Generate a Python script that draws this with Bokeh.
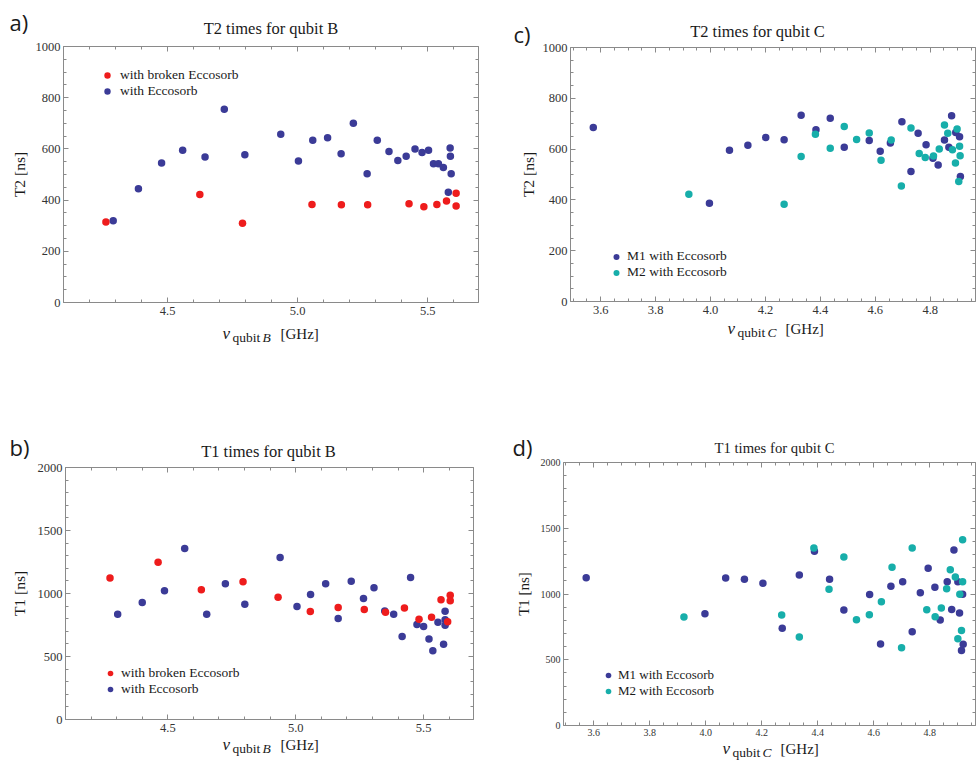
import math
from bokeh.plotting import figure
from bokeh.models import (Legend, LegendItem, LinearAxis, Range1d,
                          SingleIntervalTicker, PrintfTickFormatter)
from bokeh.core.properties import value
from bokeh.layouts import row, column
from bokeh.embed import file_html
from bokeh.resources import INLINE

# ---------------- data ----------------
# a) T2 times for qubit B
a_broken_f = [4.263, 4.624, 4.788, 5.055, 5.168, 5.269, 5.428, 5.485, 5.535, 5.572, 5.609, 5.609]
a_broken_t2 = [314, 422, 310, 383, 382, 382, 386, 374, 383, 396, 427, 377]
a_ecco_f = [4.291, 4.388, 4.477, 4.558, 4.644, 4.718, 4.797, 4.935, 5.003, 5.058, 5.115, 5.167,
            5.214, 5.267, 5.306, 5.351, 5.385, 5.417, 5.451, 5.478, 5.503, 5.522, 5.541, 5.560,
            5.586, 5.587, 5.590, 5.579]
a_ecco_t2 = [319, 444, 545, 595, 568, 755, 577, 657, 553, 634, 644, 581,
             700, 503, 634, 590, 555, 571, 600, 586, 595, 542, 542, 527,
             604, 571, 503, 431]

# b) T1 times for qubit B
b_broken_f = [4.274, 4.462, 4.631, 4.794, 4.931, 5.057, 5.166, 5.268, 5.351, 5.425, 5.482, 5.531,
              5.568, 5.594, 5.604, 5.604]
b_broken_t1 = [1124, 1249, 1029, 1093, 971, 857, 889, 873, 852, 884, 796, 812,
               950, 775, 987, 942]
b_ecco_f = [4.304, 4.400, 4.487, 4.566, 4.652, 4.725, 4.801, 4.939, 5.005, 5.058, 5.117, 5.166,
            5.217, 5.265, 5.306, 5.348, 5.383, 5.416, 5.449, 5.474, 5.500, 5.521, 5.536, 5.556,
            5.578, 5.584, 5.584, 5.584]
b_ecco_t1 = [836, 929, 1021, 1357, 836, 1077, 915, 1286, 897, 992, 1077, 802,
             1098, 960, 1045, 862, 836, 659, 1127, 754, 738, 638, 545, 772,
             598, 860, 791, 749]

# c) T2 times for qubit C
c_m1_f = [3.573, 3.996, 4.069, 4.136, 4.201, 4.268, 4.330, 4.384, 4.436, 4.487, 4.578, 4.618,
          4.655, 4.697, 4.730, 4.756, 4.785, 4.810, 4.829, 4.852, 4.868, 4.878, 4.893, 4.907, 4.910]
c_m1_t2 = [685, 387, 595, 615, 646, 637, 733, 676, 721, 607, 634, 592,
           624, 708, 512, 662, 617, 564, 537, 636, 607, 731, 665, 649, 492]
c_m2_f = [3.921, 4.268, 4.330, 4.382, 4.436, 4.487, 4.532, 4.578, 4.621, 4.658, 4.695, 4.730,
          4.760, 4.782, 4.812, 4.833, 4.852, 4.864, 4.881, 4.892, 4.898, 4.904, 4.907, 4.909]
c_m2_t2 = [422, 383, 571, 658, 603, 689, 638, 663, 556, 636, 455, 683,
           583, 567, 573, 600, 695, 662, 597, 545, 679, 472, 611, 574]

# d) T1 times for qubit C
d_m1_f = [3.573, 3.997, 4.071, 4.138, 4.204, 4.273, 4.334, 4.388, 4.442, 4.493, 4.585, 4.624,
          4.661, 4.703, 4.737, 4.766, 4.794, 4.818, 4.837, 4.862, 4.878, 4.886, 4.900, 4.906,
          4.913, 4.917, 4.919]
d_m1_t1 = [1124, 850, 1122, 1112, 1081, 739, 1145, 1325, 1112, 878, 997, 619,
           1058, 1094, 713, 1010, 1195, 1051, 802, 1094, 883, 1335, 1094, 855,
           571, 998, 617]
d_m2_f = [3.922, 4.271, 4.334, 4.386, 4.440, 4.493, 4.538, 4.584, 4.627, 4.665, 4.699, 4.737,
          4.789, 4.819, 4.841, 4.860, 4.873, 4.891, 4.900, 4.907, 4.913, 4.917, 4.917]
d_m2_t1 = [825, 840, 673, 1350, 1036, 1282, 805, 843, 942, 1203, 591, 1350,
           881, 827, 893, 1040, 1185, 1129, 660, 998, 723, 1094, 1413]

titles = ["T2 times for qubit B", "T2 times for qubit C",
          "T1 times for qubit B", "T1 times for qubit C"]
letters = ["a)", "c)", "b)", "d)"]
ylabels = ["T2 [ns]", "T2 [ns]", "T1 [ns]", "T1 [ns]"]

# ---------------- styling ----------------
SERIF = "Liberation Serif"
SANS = "Open Sans"
FRAME = "#8a8a8a"
TXT = "#1a1a1a"
RED = "#ee1c1c"
BLUE = "#3b3b97"
TEAL = "#17aeaa"
PT = 7.5


def style_axis(ax, interval, nminor, fmt, size, show, standoff):
    ax.ticker = SingleIntervalTicker(interval=interval, num_minor_ticks=nminor)
    if fmt:
        ax.formatter = PrintfTickFormatter(format=fmt)
    ax.axis_line_color = FRAME
    ax.major_tick_line_color = FRAME
    ax.minor_tick_line_color = FRAME
    ax.major_tick_in = 5
    ax.major_tick_out = 0
    ax.minor_tick_in = 3
    ax.minor_tick_out = 0
    ax.major_label_text_font = SERIF
    if show:
        ax.major_label_text_color = "#333333"
        ax.major_label_text_font_size = size
        ax.major_label_standoff = standoff
    else:
        ax.major_label_text_color = None
        ax.major_label_text_font_size = "0px"
        ax.major_label_standoff = 0


def panel(fig, frame, xr, yr, xint, xminor, yint, yminor, tick_size, xstandoff):
    """fig = (left, top, width, height) of the figure on the page;
    frame = (left, right, top, bottom) page pixels of the framed data box."""
    gl, gt, w, h = fig
    fl, fr, ft, fb = frame
    x0, x1 = xr
    y0, y1 = yr
    kx = (x1 - x0) / (fr - fl)
    ky = (y1 - y0) / (fb - ft)
    p = figure(width=w, height=h,
               x_range=Range1d(x0 - (fl - gl) * kx, x1 + (gl + w - fr) * kx),
               y_range=Range1d(y0 - (gt + h - fb) * ky, y1 + (ft - gt) * ky),
               output_backend="svg", toolbar_location=None, title=None, min_border=0)
    p.extra_x_ranges = {"px": Range1d(gl, gl + w)}
    p.extra_y_ranges = {"py": Range1d(gt + h, gt)}
    p.grid.visible = False
    p.outline_line_color = None
    p.background_fill_color = "white"
    p.border_fill_color = "white"

    bottom = p.xaxis[0]
    style_axis(bottom, xint, xminor, "%.1f", tick_size, True, xstandoff)
    bottom.fixed_location = y0
    bottom.bounds = (x0, x1)
    left = p.yaxis[0]
    style_axis(left, yint, yminor, None, tick_size, True, 3)
    left.fixed_location = x0
    left.bounds = (y0, y1)
    top = LinearAxis(fixed_location=y1, bounds=(x0, x1))
    style_axis(top, xint, xminor, None, "0px", False, 0)
    p.add_layout(top, "above")
    right = LinearAxis(fixed_location=x1, bounds=(y0, y1))
    style_axis(right, yint, yminor, None, "0px", False, 0)
    p.add_layout(right, "right")
    p._page = fig
    return p


def legend(p, items, glyph_left, bottom, lh, standoff, size):
    gl, gt, w, h = p._page
    lg = Legend(items=[LegendItem(label=l, renderers=[r]) for l, r in items],
                location=(glyph_left - gl, gt + h - bottom),
                border_line_color=None, background_fill_alpha=0,
                padding=0, margin=0, spacing=0, label_standoff=standoff,
                glyph_width=16, glyph_height=lh, label_height=lh,
                label_text_font=SERIF, label_text_font_size=size, label_text_color=TXT)
    p.add_layout(lg)


def put(p, x, y, text, size, font=SERIF, style="normal", align="left", angle=0.0,
        baseline="alphabetic"):
    # (x, y) in page pixels; for "alphabetic" y is the intended baseline
    # (Bokeh draws it ~0.3 em lower, so that is compensated here)
    fs = float(size[:-2])
    dy = 0.3 * fs if baseline == "alphabetic" else 0.0
    p.text(x=[x], y=[y - dy], text=[text], text_font=value(font),
           text_font_size=value(size), text_font_style=style, text_align=align,
           text_baseline=baseline, angle=angle, text_color=TXT,
           x_range_name="px", y_range_name="py")


def xlabel(p, left, base, letter):
    put(p, left, base, "ν", "17px", style="italic")
    put(p, left + 10, base + 3, "qubit", "13.5px")
    put(p, left + 40, base + 3, letter, "13.5px", style="italic")
    put(p, left + 58, base, "[GHz]", "15px")


# ---------------- a) ----------------
pa = panel((0, 0, 498, 410), (63, 478, 46, 302), (4.1, 5.695), (0, 1000),
           0.5, 5, 200, 4, "12.5px", 4)
ra2 = pa.scatter(a_ecco_f, a_ecco_t2, size=PT, color=BLUE, line_color=None)
ra1 = pa.scatter(a_broken_f, a_broken_t2, size=PT, color=RED, line_color=None)
legend(pa, [("with broken Eccosorb", ra1), ("with Eccosorb", ra2)], 99, 99, 16, 5, "13.5px")
put(pa, 9, 28, letters[0], "22px", font=SANS)
put(pa, 270.5, 33, titles[0], "16.5px", align="center")
put(pa, 19, 174, ylabels[0], "15.5px", align="center", angle=math.pi / 2, baseline="middle")
xlabel(pa, 222, 338, "B")

# ---------------- c) ----------------
pc = panel((498, 0, 478, 410), (570, 975, 47, 301), (3.49, 4.965), (0, 1000),
           0.2, 4, 200, 4, "12.5px", 4)
rc1 = pc.scatter(c_m1_f, c_m1_t2, size=PT, color=BLUE, line_color=None)
rc2 = pc.scatter(c_m2_f, c_m2_t2, size=PT, color=TEAL, line_color=None)
legend(pc, [("M1 with Eccosorb", rc1), ("M2 with Eccosorb", rc2)], 608, 280, 15, 3, "13.5px")
put(pc, 513, 40.5, letters[1], "22px", font=SANS)
put(pc, 757, 36, titles[1], "16.5px", align="center")
put(pc, 528, 174, ylabels[1], "15.5px", align="center", angle=math.pi / 2, baseline="middle")
xlabel(pc, 727, 333, "C")

# ---------------- b) ----------------
pb = panel((0, 410, 498, 352), (65, 473, 467, 719), (4.1, 5.695), (0, 2000),
           0.5, 5, 500, 5, "12.5px", 4)
rb2 = pb.scatter(b_ecco_f, b_ecco_t1, size=PT, color=BLUE, line_color=None)
rb1 = pb.scatter(b_broken_f, b_broken_t1, size=PT, color=RED, line_color=None)
legend(pb, [("with broken Eccosorb", rb1), ("with Eccosorb", rb2)], 102, 697, 14, 3, "13.5px")
put(pb, 9, 453, letters[2], "22px", font=SANS)
put(pb, 268, 455.5, titles[2], "16.5px", align="center")
put(pb, 19, 593, ylabels[2], "15.5px", align="center", angle=math.pi / 2, baseline="middle")
xlabel(pb, 222, 749, "B")

# ---------------- d) ----------------
pd = panel((498, 410, 478, 352), (563, 975, 462, 725), (3.492, 4.963), (0, 2000),
           0.2, 4, 500, 5, "10px", 3)
rd1 = pd.scatter(d_m1_f, d_m1_t1, size=PT, color=BLUE, line_color=None)
rd2 = pd.scatter(d_m2_f, d_m2_t1, size=PT, color=TEAL, line_color=None)
legend(pd, [("M1 with Eccosorb", rd1), ("M2 with Eccosorb", rd2)], 600, 699, 14, 2, "13px")
put(pd, 512, 453, letters[3], "22px", font=SANS)
put(pd, 774, 452, titles[3], "14.7px", align="center")
put(pd, 523, 593.5, ylabels[3], "15px", align="center", angle=math.pi / 2, baseline="middle")
xlabel(pd, 722, 753, "C")

layout = column(row(pa, pc, spacing=0), row(pb, pd, spacing=0), spacing=0)

with open("out.html", "w") as f:
    f.write(file_html(layout, INLINE))
